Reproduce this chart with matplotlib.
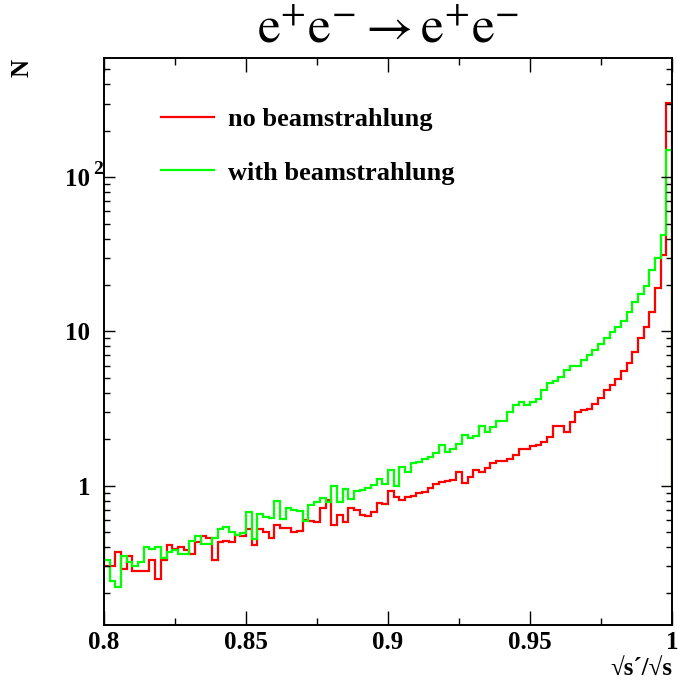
import numpy as np
import matplotlib
matplotlib.use('Agg')
import matplotlib.pyplot as plt
import matplotlib.transforms as mtransforms
from matplotlib.lines import Line2D
from matplotlib.ticker import FixedLocator, FixedFormatter, LogLocator, NullFormatter

# histogram range, 100 bins
x_lo, x_hi = 0.8, 1.0

no_bs = [0.30, 0.30, 0.37, 0.29, 0.35, 0.28, 0.28, 0.28, 0.33, 0.25,
         0.33, 0.41, 0.39, 0.40, 0.38, 0.36, 0.43, 0.47, 0.46, 0.33,
         0.43, 0.44, 0.43, 0.48, 0.47, 0.52, 0.41, 0.52, 0.50, 0.46,
         0.56, 0.53, 0.53, 0.50, 0.51, 0.60, 0.59, 0.58, 0.72, 0.81,
         0.56, 0.65, 0.58, 0.72, 0.70, 0.65, 0.64, 0.68, 0.77, 0.76,
         0.92, 0.84, 0.81, 0.85, 0.86, 0.89, 0.91, 0.96, 1.02, 1.06,
         1.08, 1.09, 1.22, 1.04, 1.13, 1.27, 1.22, 1.30, 1.41, 1.45,
         1.45, 1.49, 1.58, 1.72, 1.72, 1.81, 1.84, 1.93, 2.06, 2.45,
         2.45, 2.24, 2.60, 2.99, 3.10, 3.13, 3.39, 3.72, 4.17, 4.50,
         4.93, 5.57, 6.27, 7.30, 9.01, 10.6, 13.4, 19.2, 31.5, 304]

with_bs = [0.33, 0.24, 0.22, 0.35, 0.32, 0.30, 0.32, 0.40, 0.39, 0.40,
           0.34, 0.37, 0.38, 0.36, 0.36, 0.44, 0.47, 0.42, 0.42, 0.46,
           0.52, 0.54, 0.50, 0.48, 0.49, 0.68, 0.45, 0.66, 0.63, 0.62,
           0.80, 0.61, 0.72, 0.70, 0.69, 0.59, 0.75, 0.78, 0.83, 0.78,
           0.99, 0.78, 0.95, 0.82, 0.92, 0.94, 0.97, 1.01, 1.10, 1.03,
           1.27, 1.00, 1.33, 1.23, 1.40, 1.43, 1.49, 1.54, 1.64, 1.84,
           1.66, 1.72, 1.87, 2.12, 2.05, 2.09, 2.42, 2.24, 2.40, 2.63,
           2.63, 3.02, 3.32, 3.48, 3.32, 3.46, 3.66, 4.17, 4.60, 4.80,
           5.05, 5.63, 6.00, 6.00, 6.54, 7.05, 7.60, 8.26, 9.12, 9.84,
           10.7, 11.7, 13.4, 15.6, 17.4, 19.7, 25.0, 30.0, 42.2, 150]

labels = ['no beamstrahlung', 'with beamstrahlung']
xtick_vals = [0.8, 0.85, 0.9, 0.95, 1.0]
xtick_labels = ['0.8', '0.85', '0.9', '0.95', '1']
ytick_vals = [1, 10, 100]
ytick_labels = ['1', '10', '10']

plt.rcParams['font.family'] = ['Liberation Serif', 'DejaVu Serif']
plt.rcParams['font.weight'] = 'normal'
plt.rcParams['mathtext.fontset'] = 'stix'

fig = plt.figure(figsize=(6.79, 6.82), dpi=100)
ax = fig.add_axes([0.1532, 0.0836, 0.8365, 0.8314])

edges = np.linspace(x_lo, x_hi, len(no_bs) + 1)
ax.stairs(no_bs, edges, baseline=1, color='#ff0000', lw=1.6)
ax.stairs(with_bs, edges, baseline=1, color='#00ff00', lw=1.6)

ax.set_yscale('log')
ax.set_xlim(x_lo, x_hi)
ax.set_ylim(0.125, 592)

# x ticks
ax.xaxis.set_major_locator(FixedLocator(xtick_vals))
ax.xaxis.set_major_formatter(FixedFormatter(xtick_labels))
ax.xaxis.set_minor_locator(FixedLocator([0.825, 0.875, 0.925, 0.975]))
# y ticks
ax.yaxis.set_major_locator(FixedLocator(ytick_vals))
ax.yaxis.set_major_formatter(FixedFormatter(ytick_labels))
ax.yaxis.set_minor_locator(LogLocator(base=10, subs=np.arange(2, 10)))
ax.yaxis.set_minor_formatter(NullFormatter())

ax.tick_params(which='both', direction='in', top=True, right=True, width=1.0)
ax.tick_params(axis='x', which='major', length=10, labelsize=18, pad=4)
ax.tick_params(axis='x', which='minor', length=5)
ax.tick_params(axis='y', which='major', length=8, labelsize=18, pad=10)
ax.tick_params(axis='y', which='minor', length=4.5)
for lab in ax.get_xticklabels() + ax.get_yticklabels():
    lab.set_fontweight('bold')
for sp in ax.spines.values():
    sp.set_linewidth(1.4)

# superscript of the 10^2 label (ROOT style)
trans = mtransforms.blended_transform_factory(ax.transAxes, ax.transData)
ax.text(-0.002, 112, '2', transform=trans, fontsize=14, fontweight='bold',
        ha='right', va='center')

handles = [Line2D([], [], color='#ff0000', lw=1.6),
           Line2D([], [], color='#00ff00', lw=1.6)]
ax.legend(handles, labels, loc='upper left', bbox_to_anchor=(0.1, 0.913),
          frameon=False, prop={'size': 19, 'weight': 'bold'},
          handlelength=2.0, handletextpad=0.55,
          labelspacing=1.15, borderpad=0, borderaxespad=0)

fig.text(388 / 679, 1 - 30 / 682, r'$\mathrm{e^{+}e^{-}\rightarrow e^{+}e^{-}}$',
         fontsize=37, ha='center', va='center')
fig.text(22 / 679, 1 - 68 / 682, 'N', rotation=90, fontsize=18,
         fontweight='bold', ha='center', va='center')
fig.text(672 / 679, 1 - 668 / 682, '\u221as\u00b4/\u221as', fontsize=18,
         fontweight='bold', ha='right', va='center')

fig.savefig('out.png', dpi=100)
